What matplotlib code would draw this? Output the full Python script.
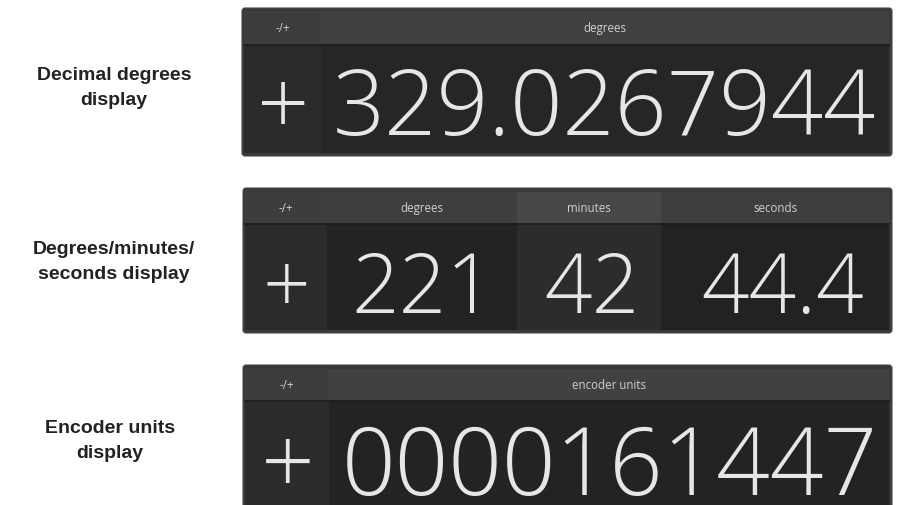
import matplotlib.pyplot as plt
from matplotlib.patches import FancyBboxPatch, Rectangle

# ── Content ─────────────────────────────────────────────────────────────────
row_labels = ["Decimal degrees\ndisplay", "Degrees/minutes/\nseconds display", "Encoder units\ndisplay"]
sign_header = "-/+"
sign_value = "+"
dd_headers = ["degrees"]
dd_values = ["329.0267944"]
dms_headers = ["degrees", "minutes", "seconds"]
dms_values = ["221", "42", "44.4"]
enc_headers = ["encoder units"]
enc_values = ["0000161447"]

# ── Layout (pixel coordinates, y down) ──────────────────────────────────────
W, H = 899, 506
panels = [
    dict(frame=(242, 9, 892, 157), head=(12, 45), body_bot=154,
         cols=[244, 321, 889], label_xy=(114, 88), base=135, fit=1,
         spans=[(261, 305), (333, 876)],
         head_cols=["#3d3d3d", "#414141"], body_cols=["#2b2b2b", "#262626"]),
    dict(frame=(243, 189, 892, 334), head=(193, 224), body_bot=331,
         cols=[245, 327, 517, 661, 889], label_xy=(114, 262), base=313, fit=1,
         spans=[(265, 308), (351, 494), (546, 638), (687, 878)],
         head_cols=["#3d3d3d", "#3e3e3e", "#474747", "#3e3e3e"],
         body_cols=["#2b2b2b", "#232323", "#2c2c2c", "#222222"]),
    dict(frame=(243, 366, 892, 520), head=(370, 401), body_bot=518,
         cols=[245, 329, 889], label_xy=(110, 441), base=495, fit=1,
         spans=[(265, 310), (342, 878)],
         head_cols=["#3d3d3d", "#414141"], body_cols=["#2b2b2b", "#232323"]),
]
headers = [[sign_header] + dd_headers, [sign_header] + dms_headers, [sign_header] + enc_headers]
values = [[sign_value] + dd_values, [sign_value] + dms_values, [sign_value] + enc_values]

DIGIT_FONT = dict(family=["Open Sans", "DejaVu Sans"], weight="light", color="#e6e6e6")

fig = plt.figure(figsize=(W / 100, H / 100), dpi=100)
ax = fig.add_axes([0, 0, 1, 1])
ax.set_xlim(0, W)
ax.set_ylim(H, 0)
ax.axis("off")
renderer = fig.canvas.get_renderer()


def width_fit_size(s, width):
    """Font size at which s is `width` pixels wide."""
    t = ax.text(0, 0, s, fontsize=60, **DIGIT_FONT)
    w = t.get_window_extent(renderer).width
    t.remove()
    return 60 * width / w


for p, label, hdrs, vals in zip(panels, row_labels, headers, values):
    fx0, fy0, fx1, fy1 = p["frame"]
    ax.add_patch(FancyBboxPatch((fx0, fy0), fx1 - fx0, fy1 - fy0,
                                boxstyle="round,pad=0,rounding_size=3",
                                fc="#393939", ec="#4a4a4a", lw=0.8, clip_on=False))
    hy0, hy1 = p["head"]
    cols = p["cols"]
    for i in range(len(cols) - 1):
        ax.add_patch(Rectangle((cols[i], hy0), cols[i + 1] - cols[i], hy1 - hy0,
                               fc=p["head_cols"][i], ec="none"))
        ax.add_patch(Rectangle((cols[i], hy1 + 1), cols[i + 1] - cols[i], p["body_bot"] - hy1 - 1,
                               fc=p["body_cols"][i], ec="none"))
        ax.text((cols[i] + cols[i + 1]) / 2, (hy0 + hy1) / 2, hdrs[i],
                fontsize=8.3, color="#d0d0d0", ha="center", va="center",
                family=["Open Sans", "DejaVu Sans"])
    ax.plot([cols[0], cols[-1]], [hy1 + 0.5, hy1 + 0.5], color="#1c1c1c", lw=1.2)

    # one font size per panel, taken from its main value
    x0, x1 = p["spans"][p["fit"]]
    size = width_fit_size(vals[p["fit"]], x1 - x0)
    for (x0, x1), s in zip(p["spans"], vals):
        ax.text((x0 + x1) / 2, p["base"], s, fontsize=size, ha="center", va="baseline",
                **DIGIT_FONT)

    ax.text(*p["label_xy"], label, fontsize=14, fontweight="bold", color="#222222",
            ha="center", va="center", linespacing=1.6,
            family=["Liberation Sans", "DejaVu Sans"])

fig.savefig("out.png", dpi=100)
